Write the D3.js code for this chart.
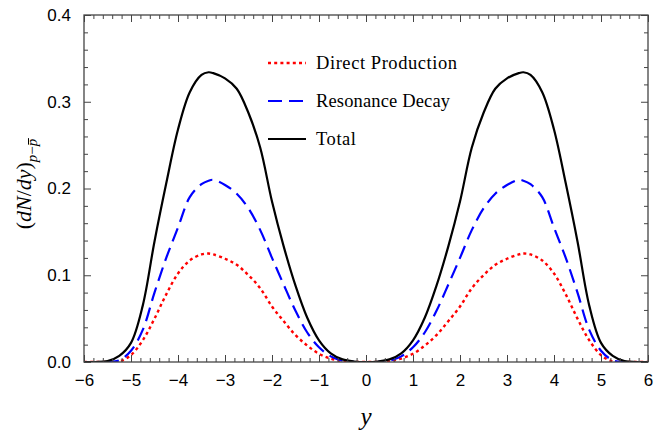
<!DOCTYPE html>
<html>
<head>
<meta charset="utf-8">
<script src="https://cdn.jsdelivr.net/npm/d3@7"></script>
<style>
  html, body { margin: 0; padding: 0; background: #fff; }
  svg { display: block; }
</style>
</head>
<body>
<svg id="chart" width="662" height="430"></svg>
<script>
// ---- data ----
const xValues = [-6,-5.75,-5.5,-5.25,-5,-4.75,-4.5,-4.25,-4,-3.75,-3.5,-3.35,-3.25,-3,-2.75,-2.5,-2.25,-2,-1.75,-1.5,-1.25,-1,-0.75,-0.5,-0.25,0,
                 0.25,0.5,0.75,1,1.25,1.5,1.75,2,2.25,2.5,2.75,3,3.25,3.35,3.5,3.75,4,4.25,4.5,4.75,5,5.25,5.5,5.75,6];
const directProduction = [0,0,0,0.0005,0.008,0.025,0.05,0.078,0.102,0.117,0.124,0.125,0.124,0.119,0.112,0.1,0.085,0.064,0.047,0.031,0.019,0.0095,0.004,0.001,0,0,
                 0,0.001,0.004,0.0095,0.019,0.031,0.047,0.064,0.085,0.1,0.112,0.119,0.124,0.125,0.124,0.117,0.102,0.078,0.05,0.025,0.008,0.0005,0,0,0];
const resonanceDecay = [0,0,0,0.002,0.013,0.037,0.08,0.12,0.155,0.19,0.205,0.209,0.21,0.204,0.194,0.177,0.152,0.12,0.089,0.059,0.034,0.017,0.0065,0.0015,0,0,
                 0,0.0015,0.0065,0.017,0.034,0.059,0.089,0.12,0.152,0.177,0.194,0.204,0.21,0.209,0.205,0.19,0.155,0.12,0.08,0.037,0.013,0.002,0,0,0];
const total = [0,0,0.001,0.007,0.022,0.065,0.139,0.206,0.268,0.311,0.331,0.334,0.333,0.327,0.315,0.287,0.247,0.185,0.133,0.088,0.051,0.025,0.010,0.003,0.0006,0,
                 0.0006,0.003,0.010,0.025,0.051,0.088,0.133,0.185,0.247,0.287,0.315,0.327,0.333,0.334,0.331,0.311,0.268,0.206,0.139,0.065,0.022,0.007,0.001,0,0];
const xTicks = [-6,-5,-4,-3,-2,-1,0,1,2,3,4,5,6];
const yTicks = [0.0,0.1,0.2,0.3,0.4];
const legendLabels = ["Direct Production","Resonance Decay","Total"];

// ---- layout ----
const W = 662, H = 430;
const margin = {left: 84, right: 14, top: 15, bottom: 68};
const svg = d3.select("#chart");
const x = d3.scaleLinear().domain([-6, 6]).range([margin.left, W - margin.right]);
const y = d3.scaleLinear().domain([0, 0.4]).range([H - margin.bottom, margin.top]);

const frameColor = "#444";
const tickFont = "'Liberation Sans', Arial, Helvetica, sans-serif";
const mathFont = "'Liberation Serif', 'Times New Roman', serif";

// minor tick arrays
const xMinor = d3.range(-6, 6.0001, 0.2).map(v => +v.toFixed(2)).filter(v => !xTicks.some(t => Math.abs(t - v) < 1e-6));
const yMinor = d3.range(0, 0.40001, 0.02).map(v => +v.toFixed(3)).filter(v => !yTicks.some(t => Math.abs(t - v) < 1e-6));

const clipId = "plotclip";
svg.append("clipPath").attr("id", clipId).append("rect")
  .attr("x", margin.left).attr("y", margin.top)
  .attr("width", W - margin.left - margin.right).attr("height", H - margin.top - margin.bottom);

// ---- curves ----
const series = [
  {name: legendLabels[0], values: directProduction, color: "#ff0000", dash: "3,3.2", width: 2.4, tl: 141},
  {name: legendLabels[1], values: resonanceDecay, color: "#0000ff", dash: "14,7", width: 2.2, tl: 134},
  {name: legendLabels[2], values: total, color: "#000000", dash: null, width: 2.2, tl: 40}
];
const line = d3.line().x(d => x(d[0])).y(d => Math.min(y(d[1]), y(0))).curve(d3.curveCatmullRom.alpha(0.5));
const gLines = svg.append("g").attr("clip-path", `url(#${clipId})`);
series.forEach(s => {
  gLines.append("path")
    .datum(xValues.map((xv, i) => [xv, s.values[i]]))
    .attr("d", line)
    .attr("fill", "none")
    .attr("stroke", s.color)
    .attr("stroke-width", s.width)
    .attr("stroke-dasharray", s.dash)
    .attr("stroke-linejoin", "round");
});

// ---- axes (ticks inward, on all four sides) ----
const fmtX = d => (d < 0 ? "\u2212" + Math.abs(d) : String(d));
const fmtY = d3.format(".1f");
const majorLen = 7, minorLen = 4;

function styleAxis(g) {
  g.select(".domain").remove();
  g.selectAll("line").attr("stroke", frameColor).attr("stroke-width", 1);
  g.selectAll("text").attr("font-family", tickFont).attr("font-size", 17).attr("fill", "#000");
}
// bottom
svg.append("g").attr("transform", `translate(0,${y(0)})`)
  .call(d3.axisBottom(x).tickValues(xTicks).tickFormat(fmtX).tickSizeInner(-majorLen).tickSizeOuter(0).tickPadding(12)).call(styleAxis);
svg.append("g").attr("transform", `translate(0,${y(0)})`)
  .call(d3.axisBottom(x).tickValues(xMinor).tickFormat("").tickSizeInner(-minorLen).tickSizeOuter(0)).call(styleAxis);
// top
svg.append("g").attr("transform", `translate(0,${y(0.4)})`)
  .call(d3.axisTop(x).tickValues(xTicks).tickFormat("").tickSizeInner(-majorLen).tickSizeOuter(0)).call(styleAxis);
svg.append("g").attr("transform", `translate(0,${y(0.4)})`)
  .call(d3.axisTop(x).tickValues(xMinor).tickFormat("").tickSizeInner(-minorLen).tickSizeOuter(0)).call(styleAxis);
// left
svg.append("g").attr("transform", `translate(${x(-6)},0)`)
  .call(d3.axisLeft(y).tickValues(yTicks).tickFormat(fmtY).tickSizeInner(-majorLen).tickSizeOuter(0).tickPadding(13)).call(styleAxis);
svg.append("g").attr("transform", `translate(${x(-6)},0)`)
  .call(d3.axisLeft(y).tickValues(yMinor).tickFormat("").tickSizeInner(-minorLen).tickSizeOuter(0)).call(styleAxis);
// right
svg.append("g").attr("transform", `translate(${x(6)},0)`)
  .call(d3.axisRight(y).tickValues(yTicks).tickFormat("").tickSizeInner(-majorLen).tickSizeOuter(0)).call(styleAxis);
svg.append("g").attr("transform", `translate(${x(6)},0)`)
  .call(d3.axisRight(y).tickValues(yMinor).tickFormat("").tickSizeInner(-minorLen).tickSizeOuter(0)).call(styleAxis);

// frame
svg.append("rect")
  .attr("x", x(-6)).attr("y", y(0.4))
  .attr("width", x(6) - x(-6)).attr("height", y(0) - y(0.4))
  .attr("fill", "none").attr("stroke", frameColor).attr("stroke-width", 1.3);

// ---- legend ----
const legend = svg.append("g");
const legendRows = [63, 101, 139];
series.forEach((s, i) => {
  legend.append("line")
    .attr("x1", 268).attr("x2", 306)
    .attr("y1", legendRows[i]).attr("y2", legendRows[i])
    .attr("stroke", s.color).attr("stroke-width", s.width)
    .attr("stroke-dasharray", s.dash);
  legend.append("text")
    .attr("x", 316).attr("y", legendRows[i]).attr("dy", "0.33em")
    .attr("font-family", mathFont).attr("font-size", 18.5)
    .attr("textLength", s.tl).attr("lengthAdjust", "spacing")
    .text(s.name);
});

// ---- axis titles ----
svg.append("text")
  .attr("x", x(0)).attr("y", 425)
  .attr("text-anchor", "middle")
  .attr("font-family", mathFont).attr("font-style", "italic").attr("font-size", 25)
  .text("y");

const tg = svg.append("g").attr("transform", "translate(31,184) rotate(-90)");
const yt = tg.append("text")
  .attr("font-family", mathFont).attr("font-size", 22);
yt.append("tspan").text("(");
yt.append("tspan").attr("font-style", "italic").text("dN");
yt.append("tspan").text("/");
yt.append("tspan").attr("font-style", "italic").text("dy");
yt.append("tspan").text(")");
yt.append("tspan").attr("font-style", "italic").attr("font-size", 15).attr("dy", 6).text("p");
yt.append("tspan").attr("font-size", 15).text("\u2212");
yt.append("tspan").attr("font-style", "italic").attr("font-size", 15).text("p");
// centre the title and put the bar over the last p
const tw = yt.node().getComputedTextLength();
yt.attr("x", -tw / 2);
const n = yt.node().getNumberOfChars();
const ext = yt.node().getExtentOfChar(n - 1);
tg.append("line")
  .attr("x1", ext.x + 1.5).attr("x2", ext.x + ext.width + 0.5)
  .attr("y1", ext.y + 4.5).attr("y2", ext.y + 4.5)
  .attr("stroke", "#000").attr("stroke-width", 1);
</script>
</body>
</html>
